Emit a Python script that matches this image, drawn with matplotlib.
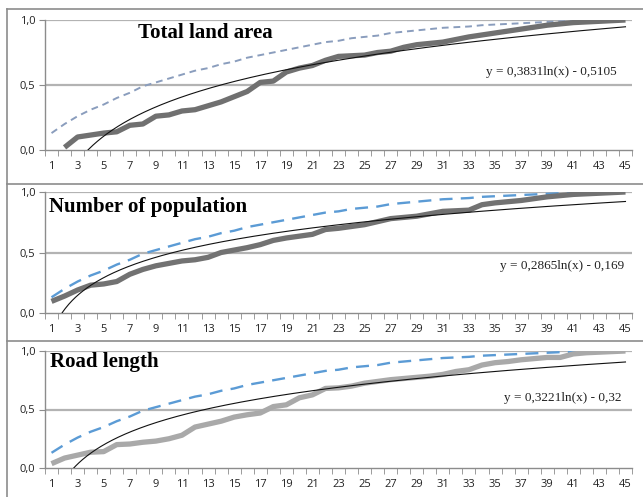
import numpy as np
import matplotlib
matplotlib.use("Agg")
import matplotlib.pyplot as plt
from matplotlib.lines import Line2D

categories = list(range(1, 46))

land_area = [np.nan, 0.02, 0.10, 0.115, 0.13, 0.14, 0.19, 0.20, 0.26, 0.27,
             0.30, 0.31, 0.34, 0.37, 0.41, 0.45, 0.52, 0.53, 0.60, 0.63,
             0.65, 0.69, 0.72, 0.725, 0.73, 0.75, 0.76, 0.79, 0.81, 0.82,
             0.83, 0.85, 0.87, 0.885, 0.90, 0.915, 0.93, 0.945, 0.96, 0.97,
             0.98, 0.985, 0.99, 0.995, 1.0]

population = [0.096, 0.14, 0.19, 0.23, 0.24, 0.26, 0.32, 0.36, 0.39, 0.41,
              0.43, 0.44, 0.46, 0.50, 0.52, 0.54, 0.565, 0.60, 0.62, 0.635,
              0.65, 0.69, 0.70, 0.715, 0.73, 0.755, 0.78, 0.79, 0.80, 0.82,
              0.84, 0.845, 0.85, 0.895, 0.91, 0.92, 0.93, 0.945, 0.96, 0.97,
              0.98, 0.985, 0.99, 0.995, 1.0]

road_length = [0.037, 0.085, 0.11, 0.135, 0.14, 0.20, 0.205, 0.22, 0.23, 0.25,
               0.28, 0.35, 0.375, 0.40, 0.435, 0.455, 0.47, 0.525, 0.54, 0.60,
               0.625, 0.68, 0.685, 0.70, 0.725, 0.74, 0.755, 0.765, 0.775, 0.785,
               0.80, 0.825, 0.84, 0.88, 0.90, 0.91, 0.925, 0.935, 0.945, 0.945,
               0.975, 0.985, 0.99, 0.995, 1.0]

reference = [0.13, 0.20, 0.26, 0.31, 0.35, 0.40, 0.44, 0.49, 0.52, 0.55,
             0.58, 0.61, 0.63, 0.66, 0.68, 0.71, 0.73, 0.75, 0.77, 0.79,
             0.81, 0.83, 0.84, 0.86, 0.87, 0.88, 0.90, 0.91, 0.92, 0.93,
             0.94, 0.945, 0.95, 0.96, 0.965, 0.97, 0.975, 0.98, 0.985, 0.99,
             0.993, 0.995, 0.997, 0.999, 1.0]

titles = ["Total land area", "Number of population", "Road length"]
series = [land_area, population, road_length]
trend_a = [0.3831, 0.2865, 0.3221]
trend_b = [-0.5105, -0.169, -0.32]
equations = ["y = 0,3831ln(x) - 0,5105", "y = 0,2865ln(x) - 0,169", "y = 0,3221ln(x) - 0,32"]
yticks = [0.0, 0.5, 1.0]
ytick_labels = ["0,0", "0,5", "1,0"]

W, H = 643, 497
fig = plt.figure(figsize=(W / 100, H / 100), dpi=100)

# pixel layout: (top, bottom) of plot areas
areas = [(20, 150), (192, 313), (351, 468)]
left_px, right_px = 45, 632
series_colors = ["#707070", "#727272", "#a9a9a9"]
ref_colors = ["#8a9dbd", "#5b9bd5", "#5b9bd5"]
ref_dashes = [(3.5, 2.5), (5.5, 3.5), (5.5, 3.5)]
ref_widths = [1.4, 1.7, 1.7]
title_pos = [(138, 33), (49, 207), (50, 362)]
eq_pos = [(617, 72), (624, 266), (622, 398)]

# panel borders
border_col = "#8c8c8c"
for ypx in [9, 184, 341]:
    fig.add_artist(Line2D([7 / W, 1.0], [1 - ypx / H, 1 - ypx / H],
                          transform=fig.transFigure, color=border_col, lw=1.2))
fig.add_artist(Line2D([7 / W, 7 / W], [0, 1 - 9 / H], transform=fig.transFigure,
                      color=border_col, lw=1.2))

x = np.array(categories, dtype=float)
xt = np.linspace(1, 45, 500)

for i in range(3):
    top, bot = areas[i]
    ax = fig.add_axes([left_px / W, 1 - bot / H, (right_px - left_px) / W, (bot - top) / H])
    ax.set_xlim(0.5, 45.5)
    ax.set_ylim(0, 1.0)
    for s in ["top", "right"]:
        ax.spines[s].set_visible(False)
    ax.spines["left"].set_color("#8c8c8c")
    ax.spines["bottom"].set_color("#8c8c8c")
    ax.spines["left"].set_linewidth(1.0)
    ax.spines["bottom"].set_linewidth(1.0)
    for g in [0.5, 1.0]:
        ax.axhline(g, color="#b3b3b3", lw=1.6, zorder=0)

    ax.plot(x, series[i], color=series_colors[i], lw=3.8, solid_joinstyle="round",
            solid_capstyle="butt", zorder=3)
    ax.plot(x, reference, color=ref_colors[i], lw=ref_widths[i], dashes=ref_dashes[i], zorder=2)
    yt = trend_a[i] * np.log(xt) + trend_b[i]
    ax.plot(xt, yt, color="#111111", lw=0.8, zorder=4, clip_on=True)

    ax.set_xticks(categories[::2])
    ax.set_xticklabels([str(c) for c in categories[::2]], fontsize=8,
                       family="Open Sans", color="#222222")
    ax.set_xticks(np.arange(0.5, 46, 1.0), minor=True)
    ax.tick_params(axis="x", which="major", length=0, pad=8)
    ax.tick_params(axis="x", which="minor", length=4, color="#8c8c8c", direction="out")
    ax.set_yticks(yticks)
    ax.set_yticklabels(ytick_labels, fontsize=8, family="Open Sans", color="#222222")
    ax.tick_params(axis="y", length=4, color="#8c8c8c", direction="out", pad=3)

    tx, ty = title_pos[i]
    fig.text(tx / W, 1 - ty / H, titles[i], fontsize=15, fontweight="bold",
             family="Liberation Serif", ha="left", va="center")
    ex, ey = eq_pos[i]
    fig.text(ex / W, 1 - ey / H, equations[i], fontsize=9.5, family="Liberation Serif",
             ha="right", va="center", color="#222222")

fig.savefig("out.png", dpi=100)
